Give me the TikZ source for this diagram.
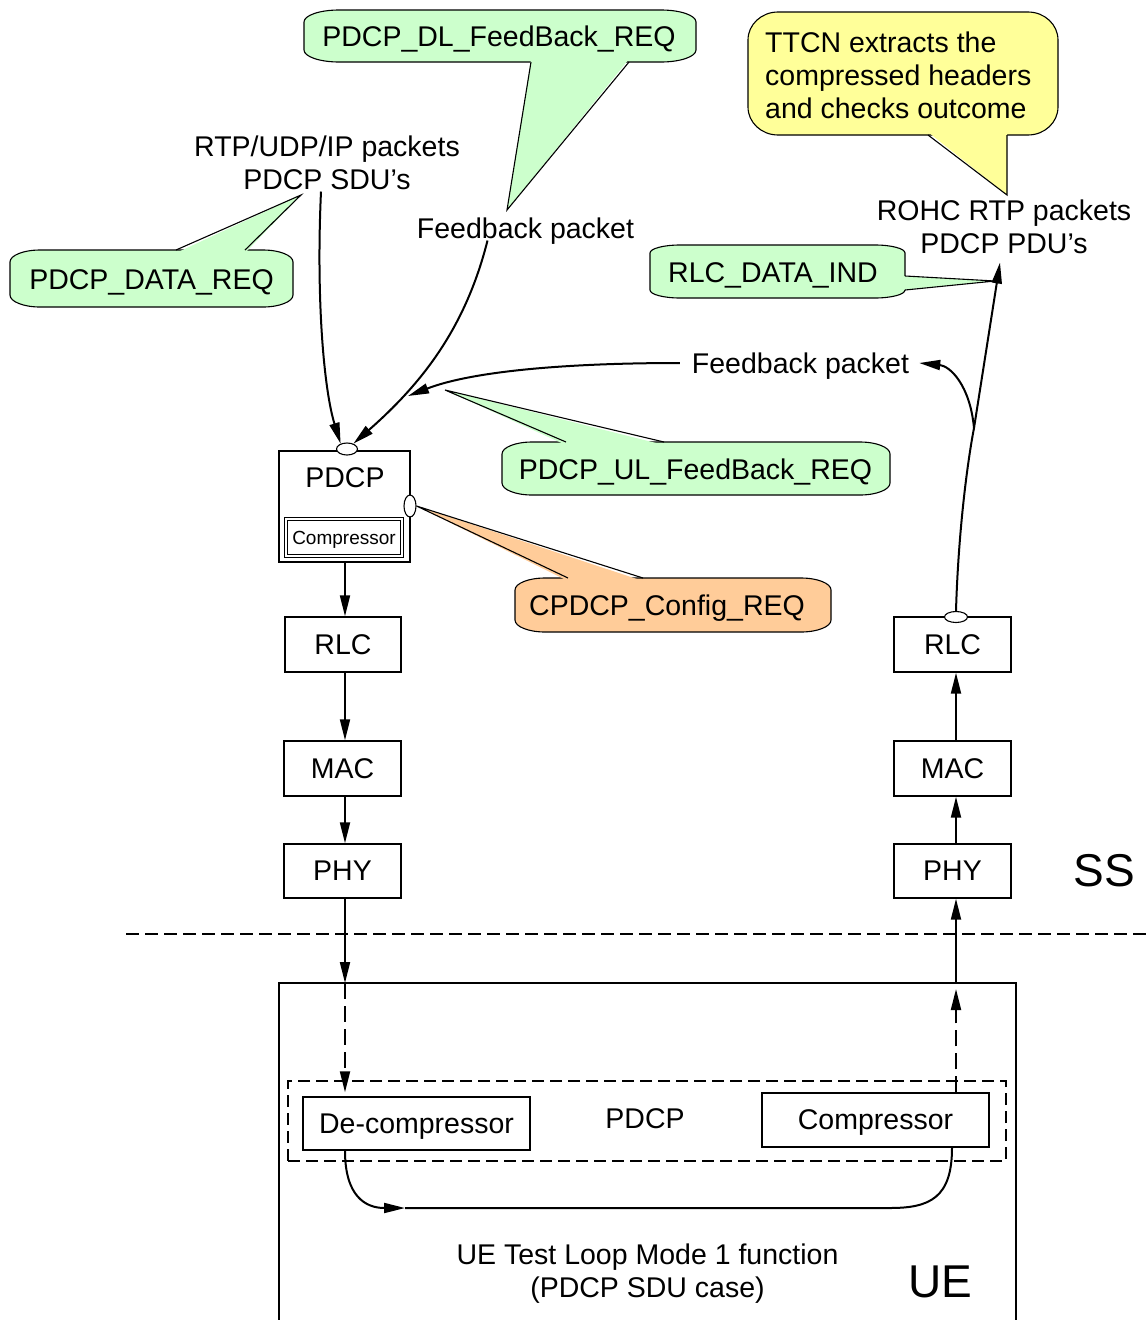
\documentclass[tikz,border=0pt]{standalone}
\usepackage{fontspec}
\setmainfont{Liberation Sans}
\usetikzlibrary{shapes.geometric,arrows.meta}
\definecolor{bgreen}{HTML}{CCFFCC}
\definecolor{byellow}{HTML}{FFFF99}
\definecolor{borange}{HTML}{FFCC99}
\newcommand\mybubble[7]{%
  \path[draw=black,line width=1.1pt,fill=#7]
    (#1,#2+#6) arc[start angle=180,end angle=270,x radius=#5,y radius=#6]
    -- (#3-#5,#2) arc[start angle=270,end angle=360,x radius=#5,y radius=#6]
    -- (#3,#4-#6) arc[start angle=0,end angle=90,x radius=#5,y radius=#6]
    -- (#1+#5,#4) arc[start angle=90,end angle=180,x radius=#5,y radius=#6]
    -- cycle;}
\tikzset{
  txt/.style={font=\fontsize{28.5}{33}\selectfont, text depth=0pt, inner sep=0pt, align=center},
  big/.style={font=\fontsize{46}{50}\selectfont, text depth=0pt, inner sep=0pt},
  small/.style={font=\fontsize{19}{22}\selectfont, text depth=0pt, inner sep=0pt},
  box/.style={draw, line width=1.4pt, inner sep=0pt, minimum width=116pt, minimum height=55pt, txt},
  port/.style={draw, line width=1.1pt, fill=white, ellipse, inner sep=0pt},
  arr/.style={line width=2pt, -{Triangle[length=21pt,width=10pt]}},
  ln/.style={line width=2pt},
  tl/.style={line width=1.1pt, line join=miter},
  dsh/.style={dash pattern=on 16pt off 7pt},
}
\begin{document}
\begin{tikzpicture}[x=1pt,y=-1pt]
\useasboundingbox (0,0) rectangle (1146,1320);

% ---- bubbles ----
\mybubble{304}{10}{696}{62}{35}{12}{bgreen}
\fill[bgreen] (531,59) -- (507,210) -- (629,59) -- cycle;
\draw[tl] (531,62) -- (507,210) -- (629,62);
\node[txt] (dlfb) at (499,36) {PDCP\_DL\_FeedBack\_REQ};

\mybubble{10}{250}{293}{307}{30}{12}{bgreen}
\fill[bgreen] (176,253) -- (301,195) -- (245,253) -- cycle;
\draw[tl] (176,250) -- (301,195) -- (245,250);
\node[txt] (datareq) at (151.5,280) {PDCP\_DATA\_REQ};

\mybubble{748}{12}{1058}{135}{30}{28}{byellow}
\fill[byellow] (928,132) -- (1007,195) -- (1007,132) -- cycle;
\draw[tl] (928,135) -- (1007,195) -- (1007,135);
\node[txt, align=left, anchor=west] (ttcn) at (765,75) {TTCN extracts the\\compressed headers\\and checks outcome};

\mybubble{650}{245}{905}{298}{30}{8}{bgreen}
\fill[bgreen] (902,276) -- (995,281) -- (902,290) -- cycle;
\draw[tl] (905,276) -- (995,281) -- (905,290);
\node[txt] (rlcind) at (773,273) {RLC\_DATA\_IND};

\mybubble{502}{442}{890}{495}{30}{12}{bgreen}
\fill[bgreen] (566,445) -- (445,390) -- (664,445) -- cycle;
\draw[tl] (566,442) -- (445,390) -- (664,442);
\node[txt] (ulfb) at (695.5,469) {PDCP\_UL\_FeedBack\_REQ};

% ---- PDCP SS box ----
\node[draw, line width=1.4pt, minimum width=131pt, minimum height=111pt, inner sep=0pt] (pdcp) at (344.5,506.5) {};
\node[txt] (pdcplbl) at (345,478) {PDCP};
\node[draw, double, double distance=1.6pt, line width=0.9pt, minimum width=116pt, minimum height=37pt, inner sep=0pt, small] (cmpin) at (344,537.5) {Compressor};
\node[port, minimum width=21pt, minimum height=12pt] (ptop) at (347,449) {};
\node[port, minimum width=12pt, minimum height=22pt] (pright) at (410,506) {};

\mybubble{515}{578}{831}{632}{30}{12}{borange}
\fill[borange] (568,581) -- (pright.east) -- (643,581) -- cycle;
\draw[tl] (568,578) -- (pright.east) -- (643,578);
\node[txt] (cfg) at (667,605) {CPDCP\_Config\_REQ};

% ---- texts ----
\node[txt] (rtp) at (327,162.5) {RTP/UDP/IP packets\\PDCP SDU’s};
\node[txt] (fb1) at (525.5,228) {Feedback packet};
\node[txt] (fb2) at (800.5,363) {Feedback packet};
\node[txt] (rohc) at (1004,226.5) {ROHC RTP packets\\PDCP PDU’s};
\node[big] (ss) at (1104,870) {SS};
\node[big] (ue) at (940.5,1282) {UE};

% ---- layer boxes ----
\node[box] (rlcL) at (343,644.5) {RLC};
\node[box, minimum width=117pt] (macL) at (342.5,768.5) {MAC};
\node[box, minimum width=117pt, minimum height=54pt] (phyL) at (342.5,871) {PHY};
\node[box, minimum width=117pt] (rlcR) at (952.5,644.5) {RLC};
\node[box, minimum width=117pt] (macR) at (952.5,768.5) {MAC};
\node[box, minimum width=117pt, minimum height=54pt] (phyR) at (952.5,871) {PHY};
\node[port, minimum width=23pt, minimum height=11pt] (rport) at (956,617) {};

% ---- separator & UE ----
\coordinate (sepA) at (126,934);
\coordinate (sepB) at (1146,934);
\draw[line width=1.3pt, dash pattern=on 13pt off 6pt] (sepA) -- (sepB);
\draw[line width=1.4pt] (279,1320) -- (279,983) -- (1016,983) -- (1016,1320);
\coordinate (uel) at (345,983);
\coordinate (uer) at (956,983);
\node[draw, line width=1.3pt, dash pattern=on 12pt off 6pt, minimum width=718pt, minimum height=80pt, inner sep=0pt] (uepdcp) at (647,1121) {};
\node[txt] (uepdcplbl) at (645,1119) {PDCP};
\node[box, minimum width=227pt, minimum height=53pt] (decomp) at (416.5,1123.5) {De-compressor};
\node[box, minimum width=227pt, minimum height=54pt] (comp) at (875.5,1120) {Compressor};
\node[txt] (loop) at (647.5,1270.5) {UE Test Loop Mode 1 function\\(PDCP SDU case)};
\coordinate (lp1) at (405,1208);
\coordinate (lp2) at (890,1208);
\coordinate (lp3) at (952,1208);

% ---- connectors ----
\draw[arr] ([xshift=-6pt,yshift=-2pt]rtp.south) .. controls (316,300) and (324,390) .. (ptop.140);
\draw[arr] ([xshift=-38pt,yshift=-2pt]fb1.south) .. controls (465,330) and (420,385) .. (ptop.40);
\coordinate (fbjoin) at (408,396);
\draw[arr] ([xshift=-12pt]fb2.west) .. controls (560,363) and (470,372) .. (fbjoin);
\coordinate (jn) at (974,428);
\draw[arr] (rport.north) .. controls (958,540) and (966,470) .. (jn) -- ([xshift=-4pt,yshift=-9pt]rohc.south);
\draw[arr] (jn) .. controls (970,385) and (950,366) .. ([xshift=10pt]fb2.east);

\draw[arr] (pdcp.south -| uel) -- (rlcL.north -| uel);
\draw[arr] (rlcL.south -| uel) -- (macL.north -| uel);
\draw[arr] (macL.south -| uel) -- (phyL.north -| uel);
\draw[arr] (phyL.south -| uel) -- (uel);
\draw[arr, dsh] (uel) -- ([yshift=4pt]decomp.north -| uel);

\draw[arr] (phyR.north -| uer) -- (macR.south -| uer);
\draw[arr] (macR.north -| uer) -- (rlcR.south -| uer);
\draw[arr] (uer) -- (phyR.south -| uer);
\draw[arr, dsh] (comp.north -| uer) -- ([yshift=-6pt]uer);

\draw[arr] (decomp.south -| uel) .. controls +(0,45) and +(-40,0) .. (lp1);
\draw[ln] (lp1) -- (lp2) .. controls +(40,0) and +(0,50) .. (comp.south -| lp3);
\end{tikzpicture}
\end{document}
